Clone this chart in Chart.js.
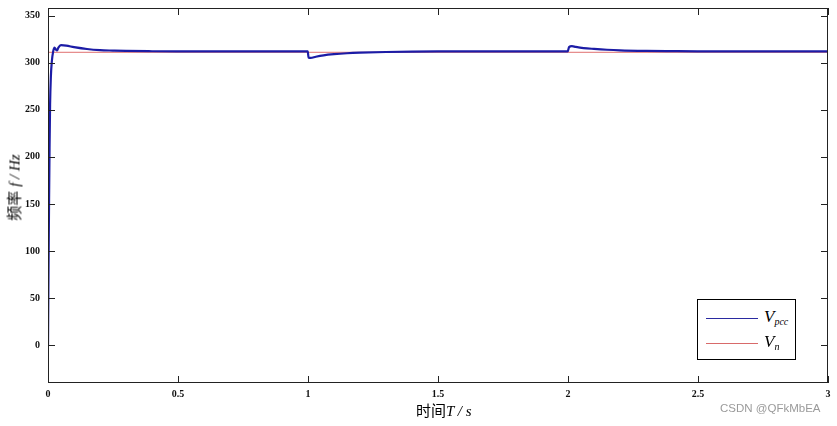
<!DOCTYPE html>
<html>
<head>
<meta charset="utf-8">
<script src="https://cdn.jsdelivr.net/npm/chart.js@4.4.1/dist/chart.umd.min.js"></script>
<style>
  body { margin: 0; background: #fff; }
  #wrap { position: relative; width: 837px; height: 426px; }
  #freqChart { position: absolute; left: 0; top: 0; }
  .serif { font-family: "Liberation Serif", "DejaVu Serif", serif; font-style: italic; }
  .cjk { font-family: "Noto Sans CJK SC", sans-serif; }
  #xTitle { position: absolute; left: 416px; top: 399px; font-size: 15px; white-space: nowrap; }
  #yTitle { position: absolute; left: -37px; top: 177px; font-size: 15px; white-space: nowrap;
            transform: rotate(-90deg); transform-origin: center; width: 100px; text-align: center; }
  #legendBox { position: absolute; left: 697px; top: 299px; width: 97px; height: 59px;
               border: 1px solid #000; background: #fff; }
  .leg-row { position: absolute; left: 0; height: 24px; width: 97px; }
  .leg-line { position: absolute; left: 8px; top: 11px; width: 52px; height: 0; }
  .leg-text { position: absolute; left: 66px; top: 0; font-size: 17px; }
  .leg-text sub { font-size: 10px; vertical-align: -3px; }
  #mark { position: absolute; left: 720px; top: 402px; font-family: "Liberation Sans", Arial, sans-serif;
          font-size: 11.5px; color: #9a9a9a; }
</style>
</head>
<body>
<div id="wrap">
  <canvas id="freqChart" width="837" height="426"></canvas>
  <div id="yTitle"><span class="cjk">频率</span> <span class="serif">f / Hz</span></div>
  <div id="xTitle"><span class="cjk">时间</span><span class="serif">T / s</span></div>
  <div id="legendBox">
    <div class="leg-row" style="top:7px;">
      <div class="leg-line" style="border-top:1.3px solid #2a2aa0;"></div>
      <div class="leg-text serif">V<sub>pcc</sub></div>
    </div>
    <div class="leg-row" style="top:32px;">
      <div class="leg-line" style="border-top:1.3px solid #d86a6a;"></div>
      <div class="leg-text serif">V<sub>n</sub></div>
    </div>
  </div>
  <div id="mark">CSDN @QFkMbEA</div>
</div>

<script>
// time in seconds
const timeS = [0, 0.002, 0.004, 0.006, 0.008, 0.011, 0.015, 0.02, 0.025, 0.03, 0.035, 0.04, 0.05,
  0.07, 0.1, 0.15, 0.2, 0.25, 0.3, 0.4, 0.5, 0.7, 0.9, 0.999,
  1.002, 1.01, 1.03, 1.06, 1.1, 1.15, 1.2, 1.3, 1.4, 1.5, 1.7, 1.9, 1.999,
  2.004, 2.015, 2.03, 2.06, 2.1, 2.15, 2.2, 2.3, 2.4, 2.5, 2.7, 3.0];
// Vpcc frequency
const vpcc = [0, 80, 150, 210, 255, 285, 302, 312, 316, 314, 313, 316, 318.5,
  318, 316.5, 314.5, 313.3, 312.8, 312.4, 312.1, 312, 312, 312, 312,
  305.5, 305, 306.3, 307.8, 309, 310, 310.6, 311.3, 311.7, 311.9, 312, 312, 312,
  316.5, 317.5, 316.7, 315.5, 314.6, 313.7, 313.1, 312.5, 312.2, 312, 312, 312];
// reference Vn
const vnTime = [0, 3];
const vn = [311, 311];

const xTicks = [0, 0.5, 1, 1.5, 2, 2.5, 3];
const yTicks = [0, 50, 100, 150, 200, 250, 300, 350];

// box round the plot with inward tick marks, like MATLAB
const boxTicks = {
  id: 'boxTicks',
  afterDraw(chart) {
    const { ctx, chartArea: a, scales } = chart;
    ctx.save();
    ctx.strokeStyle = '#222';
    ctx.lineWidth = 1;
    ctx.strokeRect(a.left + 0.5, a.top + 0.5, a.right - a.left - 1, a.bottom - a.top - 1);
    ctx.beginPath();
    xTicks.forEach(v => {
      const px = Math.round(scales.x.getPixelForValue(v)) + 0.5;
      ctx.moveTo(px, a.bottom); ctx.lineTo(px, a.bottom - 7);
      ctx.moveTo(px, a.top); ctx.lineTo(px, a.top + 7);
    });
    yTicks.forEach(v => {
      const py = Math.round(scales.y.getPixelForValue(v)) + 0.5;
      ctx.moveTo(a.left, py); ctx.lineTo(a.left + 7, py);
      ctx.moveTo(a.right, py); ctx.lineTo(a.right - 7, py);
    });
    ctx.stroke();
    ctx.restore();
  }
};

const tickFont = { family: '"Liberation Serif", serif', size: 10, weight: 'bold' };

new Chart(document.getElementById('freqChart'), {
  type: 'line',
  data: {
    datasets: [
      {
        label: 'Vn',
        data: vnTime.map((t, i) => ({ x: t, y: vn[i] })),
        borderColor: '#e07070',
        borderWidth: 1,
        pointRadius: 0,
        order: 2
      },
      {
        label: 'Vpcc',
        data: timeS.map((t, i) => ({ x: t, y: vpcc[i] })),
        borderColor: '#1c1ca6',
        borderWidth: 2.2,
        pointRadius: 0,
        cubicInterpolationMode: 'monotone',
        order: 1
      }
    ]
  },
  options: {
    responsive: false,
    animation: false,
    layout: { padding: { top: 8, right: 9, left: 0, bottom: 0 } },
    plugins: { legend: { display: false }, tooltip: { enabled: false } },
    scales: {
      x: {
        type: 'linear', min: 0, max: 3,
        afterBuildTicks: s => { s.ticks = xTicks.map(v => ({ value: v })); },
        afterFit: s => { s.height = 43; s.paddingLeft = 0; s.paddingRight = 0; },
        grid: { display: false, drawTicks: false },
        border: { display: false },
        ticks: { font: tickFont, color: '#111', padding: 5, maxRotation: 0, autoSkip: false,
                 callback: v => String(v) }
      },
      y: {
        min: -40, max: 358,
        afterBuildTicks: s => { s.ticks = yTicks.map(v => ({ value: v })); },
        afterFit: s => { s.width = 48; s.paddingTop = 0; s.paddingBottom = 0; },
        grid: { display: false, drawTicks: false },
        border: { display: false },
        ticks: { font: tickFont, color: '#111', padding: 8, autoSkip: false }
      }
    }
  },
  plugins: [boxTicks]
});
</script>
</body>
</html>
